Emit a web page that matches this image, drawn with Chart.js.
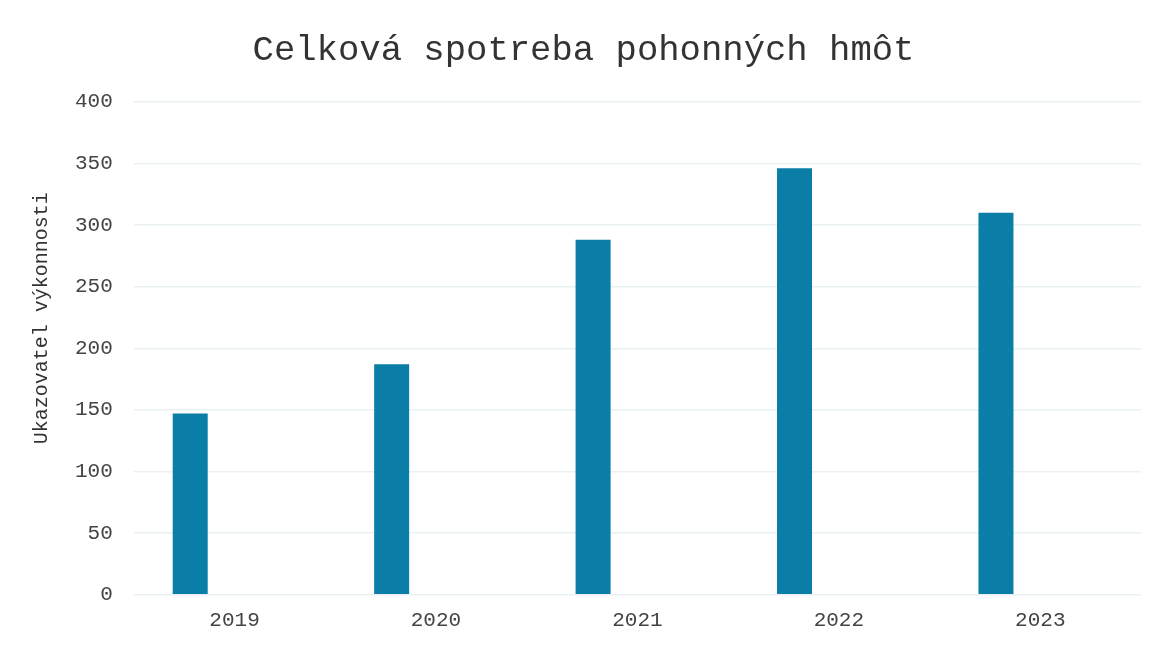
<!DOCTYPE html>
<html>
<head>
<meta charset="utf-8">
<script src="https://cdn.jsdelivr.net/npm/chart.js@4/dist/chart.umd.min.js"></script>
<style>
  html, body { margin: 0; padding: 0; background: #fff; }
  #wrap { width: 1155px; height: 646px; position: relative; }
</style>
</head>
<body>
<div id="wrap"><canvas id="chart"></canvas></div>
<script>
// --- Data ---
const years = ['2019', '2020', '2021', '2022', '2023'];
const spotreba = [147, 187, 288, 346, 310];
const emptySeries = [null, null, null, null, null];
const yTicks = [0, 50, 100, 150, 200, 250, 300, 350, 400];

const MONO = '"Liberation Mono", "Courier New", monospace';
const BAR_COLOR = '#0b7ea8';

const ctx = document.getElementById('chart').getContext('2d');
new Chart(ctx, {
    type: 'bar',
    data: {
        labels: years,
        datasets: [
            {
                label: 'Spotreba',
                data: spotreba,
                backgroundColor: BAR_COLOR,
                categoryPercentage: 0.88,
                barPercentage: 0.395
            },
            {
                // empty second series, keeps the bars on the left half
                label: '',
                data: emptySeries,
                backgroundColor: BAR_COLOR,
                categoryPercentage: 0.88,
                barPercentage: 0.395
            }
        ]
    },
    options: {
        responsive: true,
        maintainAspectRatio: false,
        animation: false,
        layout: { padding: { left: 26, right: 14, top: 29, bottom: 8 } },
        plugins: {
            legend: { display: false },
            tooltip: { enabled: false },
            title: {
                display: true,
                text: 'Celková spotreba pohonných hmôt',
                color: '#333',
                font: { family: MONO, size: 35.6, weight: 'normal' },
                padding: { top: 0, bottom: 30 }
            }
        },
        scales: {
            x: {
                grid: { display: false },
                border: { display: false },
                ticks: {
                    color: '#444',
                    font: { family: MONO, size: 21 },
                    padding: 5
                }
            },
            y: {
                min: 0,
                max: 400,
                afterBuildTicks: axis => { axis.ticks = yTicks.map(v => ({ value: v })); },
                grid: { color: '#e9f1f4', lineWidth: 1.5, drawTicks: false },
                border: { display: false },
                ticks: {
                    color: '#444',
                    font: { family: MONO, size: 21 },
                    padding: 21
                },
                title: {
                    display: true,
                    // leading spaces push the label a bit up, as in the original
                    text: '     Ukazovatel výkonnosti',
                    color: '#333',
                    font: { family: MONO, size: 20 },
                    padding: { top: 4, bottom: 0 }
                }
            }
        }
    }
});
</script>
</body>
</html>
